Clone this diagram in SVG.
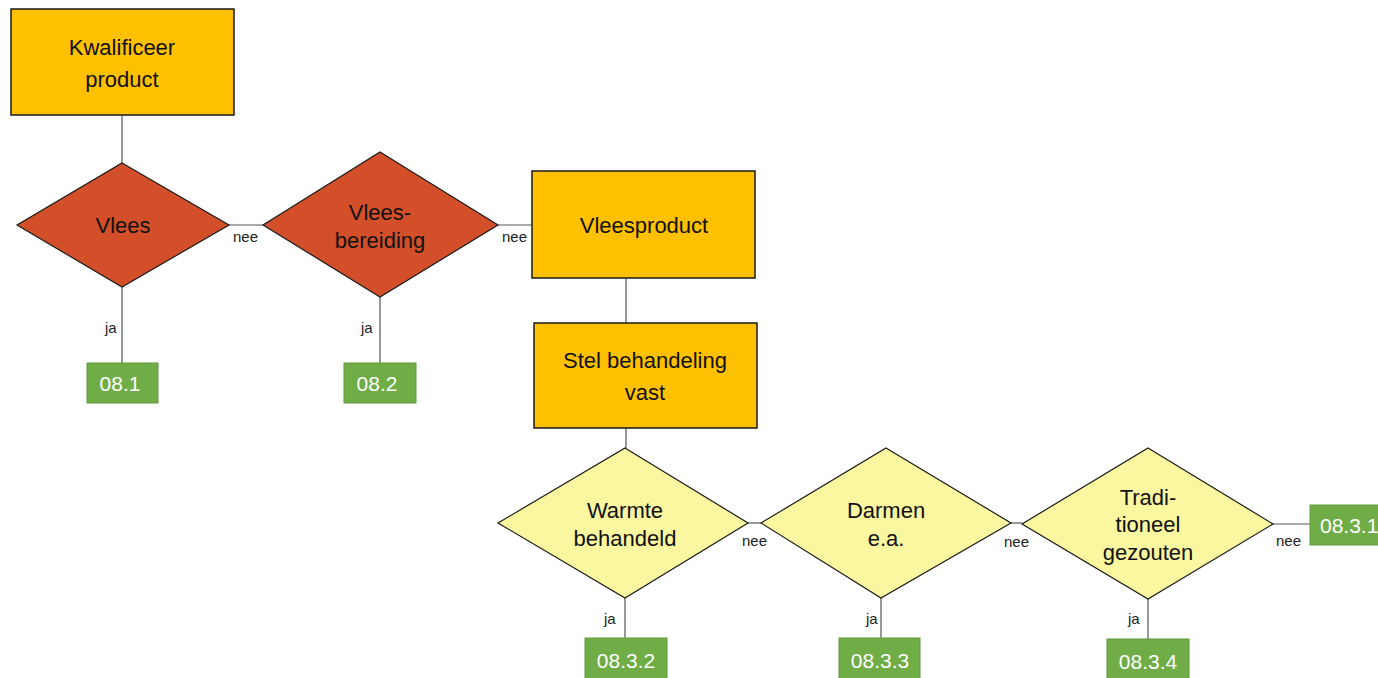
<svg xmlns="http://www.w3.org/2000/svg" width="1378" height="678" viewBox="0 0 1378 678">
  <style>
    .box { fill: #FFC000; stroke: #1a1a1a; stroke-width: 1.5; }
    .meat { fill: #D24F29; stroke: #1a1a1a; stroke-width: 1.2; }
    .cond { fill: #FAF7A0; stroke: #1a1a1a; stroke-width: 1.2; }
    .code { fill: #70AD47; stroke: #5f9a3c; stroke-width: 1; }
    .t { font-family: "Liberation Sans", Arial, sans-serif; font-size: 22px; fill: #111; text-anchor: middle; dominant-baseline: central; }
    .c { font-family: "Liberation Sans", Arial, sans-serif; font-size: 21px; fill: #fff; text-anchor: middle; dominant-baseline: central; }
    .lbl { font-family: "Liberation Sans", Arial, sans-serif; font-size: 15px; fill: #222; dominant-baseline: central; }
    .ln { stroke: #555; stroke-width: 1.2; fill: none; }
  </style>
  <rect width="1378" height="678" fill="#fff"/>

  <!-- connectors -->
  <g id="connectors">
    <line class="ln" x1="122" y1="115" x2="122" y2="163"/>
    <line class="ln" x1="229" y1="225" x2="263" y2="225"/>
    <line class="ln" x1="498" y1="225" x2="532" y2="225"/>
    <line class="ln" x1="122" y1="287" x2="122" y2="363"/>
    <line class="ln" x1="380" y1="297" x2="380" y2="363"/>
    <line class="ln" x1="626" y1="278" x2="626" y2="323"/>
    <line class="ln" x1="626" y1="428" x2="626" y2="448"/>
    <line class="ln" x1="748" y1="523" x2="761" y2="523"/>
    <line class="ln" x1="1011" y1="523" x2="1022" y2="523"/>
    <line class="ln" x1="1273" y1="524" x2="1310" y2="524"/>
    <line class="ln" x1="625" y1="598" x2="625" y2="638"/>
    <line class="ln" x1="881" y1="598" x2="881" y2="638"/>
    <line class="ln" x1="1148" y1="599" x2="1148" y2="639"/>
    <text class="lbl" x="233" y="236">nee</text>
    <text class="lbl" x="502" y="236">nee</text>
    <text class="lbl" x="742" y="540">nee</text>
    <text class="lbl" x="1004" y="541">nee</text>
    <text class="lbl" x="1276" y="540">nee</text>
    <text class="lbl" x="105" y="327">ja</text>
    <text class="lbl" x="361" y="327">ja</text>
    <text class="lbl" x="604" y="618">ja</text>
    <text class="lbl" x="866" y="618">ja</text>
    <text class="lbl" x="1128" y="618">ja</text>
  </g>

  <g id="kwalificeer">
    <rect class="box" x="11" y="9" width="223" height="106"/>
    <text class="t" x="122" y="47">Kwalificeer</text>
    <text class="t" x="122" y="79">product</text>
  </g>

  <g id="vlees">
    <polygon class="meat" points="122,163 229,225 122,287 17,225"/>
    <text class="t" x="123" y="225">Vlees</text>
  </g>

  <g id="vleesbereiding">
    <polygon class="meat" points="380,152 498,225 380,297 263,225"/>
    <text class="t" x="380" y="212">Vlees-</text>
    <text class="t" x="380" y="240">bereiding</text>
  </g>

  <g id="vleesproduct">
    <rect class="box" x="532" y="171" width="223" height="107"/>
    <text class="t" x="644" y="225">Vleesproduct</text>
  </g>

  <g id="stel-behandeling">
    <rect class="box" x="534" y="323" width="223" height="105"/>
    <text class="t" x="645" y="360">Stel behandeling</text>
    <text class="t" x="645" y="392">vast</text>
  </g>

  <g id="warmte">
    <polygon class="cond" points="625,448 748,523 625,598 498,523"/>
    <text class="t" x="625" y="510">Warmte</text>
    <text class="t" x="625" y="538">behandeld</text>
  </g>

  <g id="darmen">
    <polygon class="cond" points="886,448 1011,523 881,598 761,523"/>
    <text class="t" x="886" y="510">Darmen</text>
    <text class="t" x="886" y="538">e.a.</text>
  </g>

  <g id="traditioneel">
    <polygon class="cond" points="1148,448 1273,524 1148,599 1022,524"/>
    <text class="t" x="1148" y="497">Tradi-</text>
    <text class="t" x="1148" y="524">tioneel</text>
    <text class="t" x="1148" y="552">gezouten</text>
  </g>

  <g id="c08-1">
    <rect class="code" x="87" y="363" width="71" height="40"/>
    <text class="c" x="120" y="383">08.1</text>
  </g>
  <g id="c08-2">
    <rect class="code" x="344" y="363" width="72" height="40"/>
    <text class="c" x="377" y="383">08.2</text>
  </g>
  <g id="c08-3-2">
    <rect class="code" x="585" y="638" width="82" height="41"/>
    <text class="c" x="626" y="660">08.3.2</text>
  </g>
  <g id="c08-3-3">
    <rect class="code" x="839" y="638" width="81" height="41"/>
    <text class="c" x="880" y="660">08.3.3</text>
  </g>
  <g id="c08-3-4">
    <rect class="code" x="1107" y="639" width="82" height="40"/>
    <text class="c" x="1148" y="661">08.3.4</text>
  </g>
  <g id="c08-3-1">
    <rect class="code" x="1310" y="505" width="72" height="40"/>
    <text class="c" x="1320" y="525" style="text-anchor:start">08.3.1</text>
  </g>
</svg>
